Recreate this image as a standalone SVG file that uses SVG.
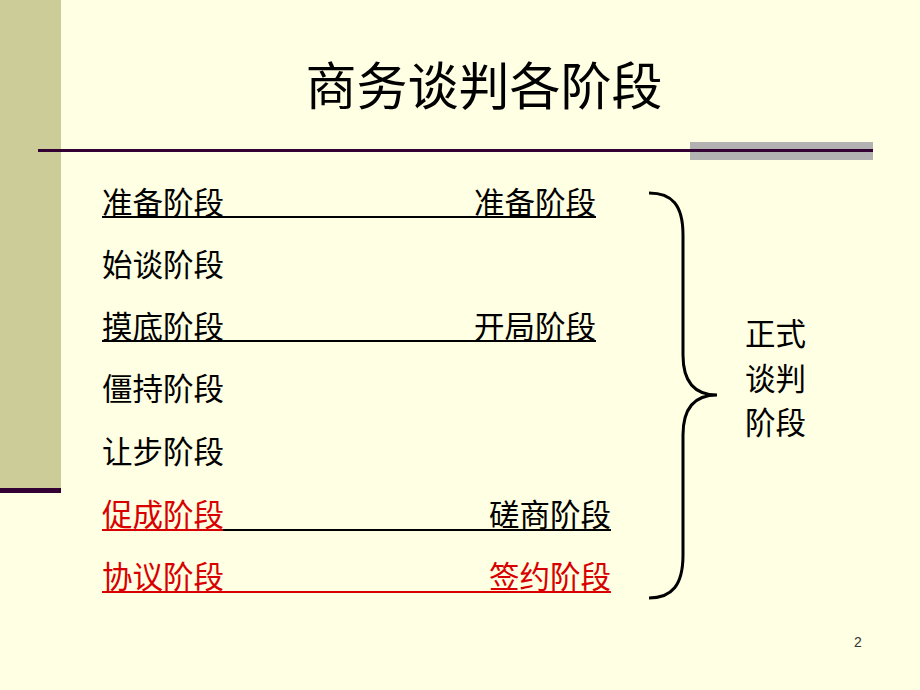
<svg xmlns="http://www.w3.org/2000/svg" width="920" height="690" viewBox="0 0 920 690">
<style>
.t{font-family:"Noto Sans CJK SC","Noto Sans CJK TC",sans-serif;font-size:30.5px;fill:#000}
.r{fill:#D80000}
.ul{stroke:#000;stroke-width:2}
.ulr{stroke:#D80000;stroke-width:2}
</style>
<rect x="0" y="0" width="920" height="690" fill="#FFFFE3"/>
<g id="decor">
<rect x="0" y="0" width="61" height="490" fill="#CCCC99"/>
<rect x="0" y="488" width="61" height="5" fill="#330033"/>
<rect x="690" y="142" width="183" height="18" fill="#B2B2B2"/>
<rect x="38" y="149" width="835" height="3" fill="#330033"/>
</g>
<g id="title">
<text x="484" y="105" text-anchor="middle" style="font-family:'Noto Sans CJK SC',sans-serif;font-size:51px;fill:#000">商务谈判各阶段</text>
</g>
<g id="left-stages">
<text class="t" x="102" y="214">准备阶段</text>
<text class="t" x="102" y="276">始谈阶段</text>
<text class="t" x="102" y="338">摸底阶段</text>
<text class="t" x="102" y="400">僵持阶段</text>
<text class="t" x="102" y="463">让步阶段</text>
<text class="t r" x="102" y="526">促成阶段</text>
<text class="t r" x="102" y="588">协议阶段</text>
</g>
<g id="right-stages">
<text class="t" x="596" y="214" text-anchor="end">准备阶段</text>
<text class="t" x="596" y="338" text-anchor="end">开局阶段</text>
<text class="t" x="611" y="526" text-anchor="end">磋商阶段</text>
<text class="t r" x="611" y="588" text-anchor="end">签约阶段</text>
</g>
<g id="connectors">
<line class="ul" x1="102" y1="217" x2="596" y2="217"/>
<line class="ul" x1="102" y1="341" x2="596" y2="341" stroke="#333"/>
<line class="ulr" x1="102" y1="530" x2="223" y2="530"/>
<line class="ul" x1="223" y1="530" x2="611" y2="530"/>
<line class="ulr" x1="102" y1="592" x2="611" y2="592"/>
</g>
<g id="brace">
<path d="M649,193 C672,193 683,205 683,235 L683,355 C683,382 695,395 717,395 C695,395 683,408 683,435 L683,555 C683,585 672,598 649,598" fill="none" stroke="#000" stroke-width="3"/>
</g>
<g id="formal-label">
<text class="t" x="745" y="345">正式</text>
<text class="t" x="745" y="390">谈判</text>
<text class="t" x="745" y="434">阶段</text>
</g>
<g id="page-number">
<text x="858" y="647" text-anchor="middle" style="font-family:'Liberation Sans',Arial,sans-serif;font-size:14px;fill:#333">2</text>
</g>
</svg>
